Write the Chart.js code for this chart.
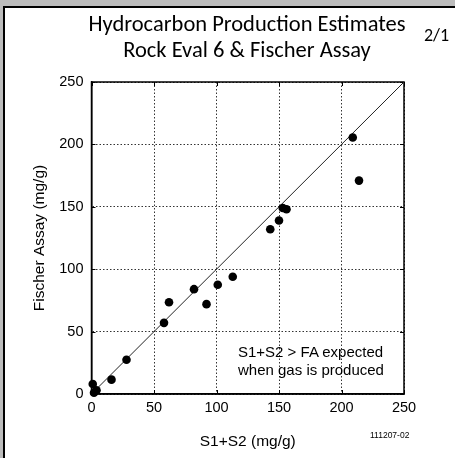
<!DOCTYPE html>
<html><head><meta charset="utf-8">
<script src="https://cdn.jsdelivr.net/npm/chart.js@4"></script>
<style>
html,body{margin:0;padding:0;}
body{width:455px;height:458px;background:#bcbcbc;position:relative;overflow:hidden;}
#frame{position:absolute;left:3px;top:6px;width:460px;height:460px;background:#fff;border-left:2px solid #000;border-top:2px solid #000;}
canvas{position:absolute;left:0;top:0;}
.t{position:absolute;white-space:nowrap;color:#000;}
#title{left:47px;width:400px;top:11px;text-align:center;font-family:Carlito,Lato,"Open Sans",sans-serif;font-size:22.5px;line-height:26px;}
#page{left:424px;top:24px;font-family:Carlito,Lato,"Open Sans",sans-serif;font-size:18px;}
#code{left:370px;top:430px;font-family:"Liberation Sans",Arial,sans-serif;font-size:8.5px;}
#note{left:238px;top:343px;font-family:"Liberation Sans",Arial,sans-serif;font-size:15px;line-height:17.5px;text-align:left;}
</style></head>
<body>
<div id="frame"></div>
<canvas id="c" width="455" height="458"></canvas>
<div class="t" id="title">Hydrocarbon Production Estimates<br>Rock Eval 6 &amp; Fischer Assay</div>
<div class="t" id="page">2/1</div>
<div class="t" id="code">111207-02</div>
<div class="t" id="note">S1+S2 &gt; FA expected<br>when gas is produced</div>
<script>
const s1s2    = [1, 2, 4, 16, 28, 58, 62, 82, 92, 101, 113, 143, 150, 153, 156, 209, 214];
const fischer = [8, 1, 3, 11.5, 27.5, 57, 73.5, 84, 72, 87.5, 94, 132, 139, 149, 148, 205.5, 171];
const oneToOneX = [0, 250];
const oneToOneY = [0, 250];
const axisMin = 0, axisMax = 250, axisStep = 50;

const pts = s1s2.map((x, i) => ({x, y: fischer[i]}));
const line = oneToOneX.map((x, i) => ({x, y: oneToOneY[i]}));

const frameTicks = {
  id: 'frameTicks',
  beforeDatasetsDraw(chart) {
    const {ctx, chartArea: a, scales} = chart;
    ctx.save();
    ctx.strokeStyle = '#000';
    ctx.lineWidth = 1;
    const L = 4;
    ctx.beginPath();
    scales.x.ticks.forEach(t => {
      const px = Math.round(scales.x.getPixelForValue(t.value)) + 0.5;
      ctx.moveTo(px, a.bottom); ctx.lineTo(px, a.bottom - L);
      ctx.moveTo(px, a.top); ctx.lineTo(px, a.top + L);
    });
    scales.y.ticks.forEach(t => {
      const py = Math.round(scales.y.getPixelForValue(t.value)) + 0.5;
      ctx.moveTo(a.left, py); ctx.lineTo(a.left + L, py);
      ctx.moveTo(a.right, py); ctx.lineTo(a.right - L, py);
    });
    ctx.stroke();
    ctx.lineWidth = 1.5;
    ctx.strokeRect(a.left, a.top, a.right - a.left, a.bottom - a.top);
    ctx.restore();
  }
};

const tickFont = {family: '"Liberation Sans", Arial, sans-serif', size: 14.5};
const titleFont = {family: '"Liberation Sans", Arial, sans-serif', size: 15.5};
new Chart(document.getElementById('c'), {
  type: 'scatter',
  data: {
    datasets: [
      {data: pts, pointRadius: 4.3, pointHoverRadius: 4.3, backgroundColor: '#000', borderColor: '#000', borderWidth: 0, clip: false, order: 1},
      {data: line, showLine: true, pointRadius: 0, borderColor: '#222', borderWidth: 1, order: 2}
    ]
  },
  options: {
    responsive: false,
    animation: false,
    events: [],
    layout: {padding: {left: 0, top: 82, right: 51, bottom: 0}},
    plugins: {legend: {display: false}, tooltip: {enabled: false}},
    scales: {
      x: {
        type: 'linear', min: axisMin, max: axisMax,
        ticks: {stepSize: axisStep, color: '#000', font: tickFont, padding: 5},
        grid: {color: '#333', lineWidth: 1, drawTicks: false},
        border: {display: true, color: '#000', width: 1.5, dash: [1.5, 2]},
        title: {display: true, text: 'S1+S2 (mg/g)', color: '#000', font: titleFont, padding: {top: 0, bottom: 7}},
        afterFit(s) { s.height = 64; }
      },
      y: {
        type: 'linear', min: axisMin, max: axisMax,
        ticks: {stepSize: axisStep, color: '#000', font: tickFont, padding: 8},
        grid: {color: '#333', lineWidth: 1, drawTicks: false},
        border: {display: true, color: '#000', width: 1.5, dash: [1.5, 2]},
        title: {display: true, text: 'Fischer Assay (mg/g)', color: '#000', font: titleFont, padding: {top: 30, bottom: 0}},
        afterFit(s) { s.width = 91.5; }
      }
    }
  },
  plugins: [frameTicks]
});
</script>
</body></html>
